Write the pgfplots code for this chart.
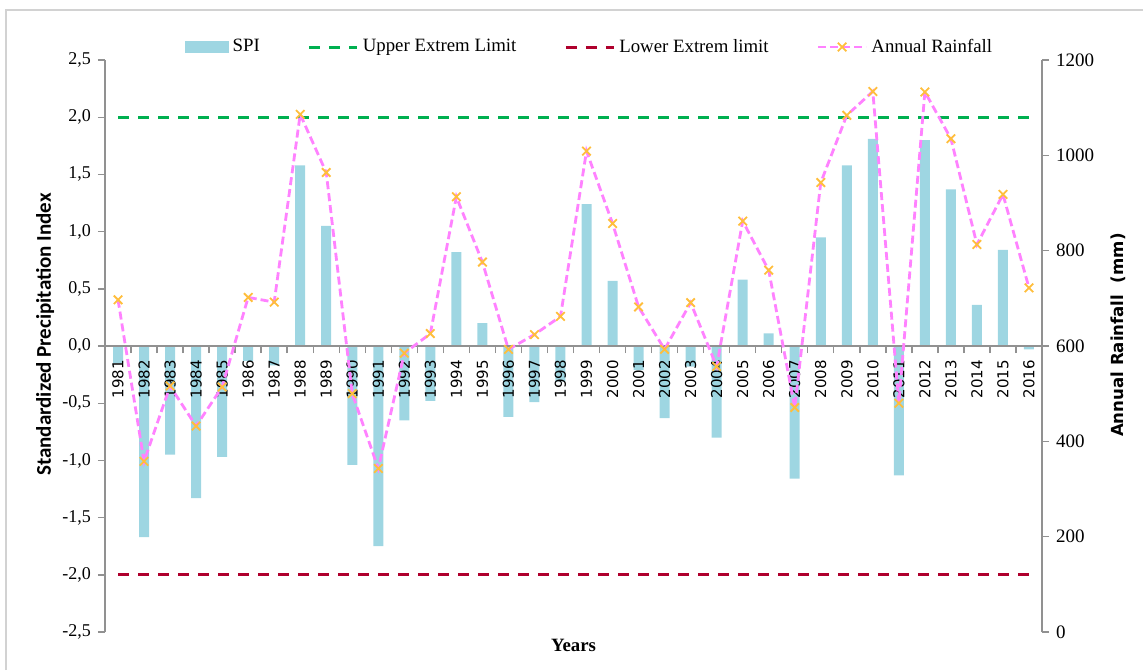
\documentclass[border=0pt]{standalone}
\usepackage{fontspec}
\setmainfont{Liberation Serif}
\newfontfamily\dejavu{DejaVu Sans}
\newfontfamily\carlito{Carlito}
\usepackage{pgfplots}
\pgfplotsset{compat=1.18}
\usepackage{pgfplotstable}

\definecolor{barc}{RGB}{158,214,226}
\definecolor{axgray}{RGB}{145,145,145}
\definecolor{upg}{RGB}{0,176,80}
\definecolor{lowr}{RGB}{175,0,45}
\definecolor{rainp}{RGB}{255,130,255}
\definecolor{xmark}{RGB}{255,190,60}

\pgfplotsset{
  barlegend/.style={legend image code/.code={\fill[barc] (0pt,-3pt) rectangle (22pt,3pt);}},
  linelegend/.style={legend image code/.code={\draw[##1] (0pt,0pt) -- (24pt,0pt);}},
  marklegend/.style={legend image code/.code={\draw[##1, mark repeat=2, mark phase=2] plot coordinates {(0pt,0pt) (12pt,0pt) (24pt,0pt)};}},
}

\pgfplotstableread{
idx year spi rain
0 1981 -0.15 697
1 1982 -1.67 358
2 1983 -0.95 516
3 1984 -1.33 432
4 1985 -0.97 514
5 1986 -0.13 702
6 1987 -0.17 692
7 1988 1.58 1086
8 1989 1.05 964
9 1990 -1.04 500
10 1991 -1.75 343
11 1992 -0.65 585
12 1993 -0.48 626
13 1994 0.82 913
14 1995 0.20 776
15 1996 -0.62 593
16 1997 -0.49 624
17 1998 -0.31 662
18 1999 1.24 1009
19 2000 0.57 857
20 2001 -0.21 682
21 2002 -0.63 593
22 2003 -0.18 691
23 2004 -0.80 557
24 2005 0.58 862
25 2006 0.11 759
26 2007 -1.16 471
27 2008 0.95 943
28 2009 1.58 1084
29 2010 1.81 1134
30 2011 -1.13 480
31 2012 1.80 1133
32 2013 1.37 1035
33 2014 0.36 813
34 2015 0.84 918
35 2016 -0.03 722
}\datatable

\begin{document}
\begin{tikzpicture}
\path[use as bounding box] (-52.5pt,-19pt) rectangle (519pt,316pt);
\draw[gray!35, line width=0.6pt] (-49.5pt,-19pt) -- (-49.5pt,311pt) -- (519pt,311pt);
\begin{axis}[
  at={(0pt,0pt)}, anchor=south west,
  scale only axis, width=468.5pt, height=286pt,
  xmin=-0.5, xmax=35.5, ymin=-2.5, ymax=2.5,
  axis x line=middle, axis y line=left,
  hide obscured x ticks=false,
  axis line style={-, draw=axgray, line width=0.7pt},
  axis on top,
  tick align=outside,
  tick style={draw=axgray, line width=0.7pt},
  major tick length=3.5pt,
  ytick={-2.5,-2,-1.5,-1,-0.5,0,0.5,1,1.5,2,2.5},
  /pgf/number format/assume math mode=true,
  yticklabel style={font=\fontsize{9}{10}\selectfont,
    /pgf/number format/.cd, fixed, fixed zerofill, precision=1, use comma},
  xtick={-0.5,0.5,...,35.5},
  x tick label as interval,
  xticklabels from table={\datatable}{year},
  xticklabel style={rotate=90, anchor=east, font=\dejavu\fontsize{7.5}{8}\selectfont},
  ylabel={Standardized Precipitation Index},
  ylabel style={font=\carlito\bfseries\fontsize{10.5}{12}\selectfont,
    at={(axis description cs:-0.064,0.52)}, anchor=center},
  xlabel={Years},
  xlabel style={font=\bfseries\fontsize{9.4}{11}\selectfont,
    at={(axis description cs:0.5,-0.023)}, anchor=center},
  legend columns=4,
  legend style={at={(axis description cs:0.518,1.0227)}, anchor=center,
    draw=none, fill=none, font=\fontsize{9.4}{11}\selectfont,
    /tikz/every even column/.append style={column sep=22pt}},
]
\addplot[ybar, bar width=5pt, fill=barc, draw=none, barlegend]
  table[x=idx, y=spi]{\datatable};
\addlegendentry{SPI}
\addplot[upg, line width=1.5pt, dash pattern=on 5.5pt off 4.5pt, linelegend]
  coordinates {(0,2) (35,2)};
\addlegendentry{Upper Extrem Limit}
\addplot[lowr, line width=1.5pt, dash pattern=on 5.5pt off 4.5pt, linelegend]
  coordinates {(0,-2) (35,-2)};
\addlegendentry{Lower Extrem limit}
\addlegendimage{rainp, line width=1.4pt, dash pattern=on 4pt off 2pt,
  mark=x, mark size=3pt, mark options={solid, draw=xmark, line width=0.9pt}, marklegend}
\addlegendentry{Annual Rainfall}
\end{axis}
\begin{axis}[
  at={(0pt,0pt)}, anchor=south west,
  scale only axis, width=468.5pt, height=286pt,
  xmin=-0.5, xmax=35.5, ymin=0, ymax=1200,
  axis x line=none, axis y line*=right,
  axis line style={-, draw=axgray, line width=0.7pt},
  tick align=outside,
  tick style={draw=axgray, line width=0.7pt},
  major tick length=3.5pt,
  ytick={0,200,400,600,800,1000,1200},
  /pgf/number format/assume math mode=true,
  yticklabel style={font=\fontsize{9.5}{10}\selectfont, /pgf/number format/1000 sep={}},
  ylabel={Annual Rainfall\ \ (mm)},
  ylabel style={font=\dejavu\bfseries\fontsize{8.3}{10}\selectfont,
    at={(axis description cs:1.081,0.519)}, anchor=center},
]
\addplot[rainp, line width=1.4pt, dash pattern=on 4pt off 2pt,
  mark=x, mark size=3pt, mark options={solid, draw=xmark, line width=0.9pt}]
  table[x=idx, y=rain]{\datatable};
\end{axis}
\end{tikzpicture}
\end{document}
